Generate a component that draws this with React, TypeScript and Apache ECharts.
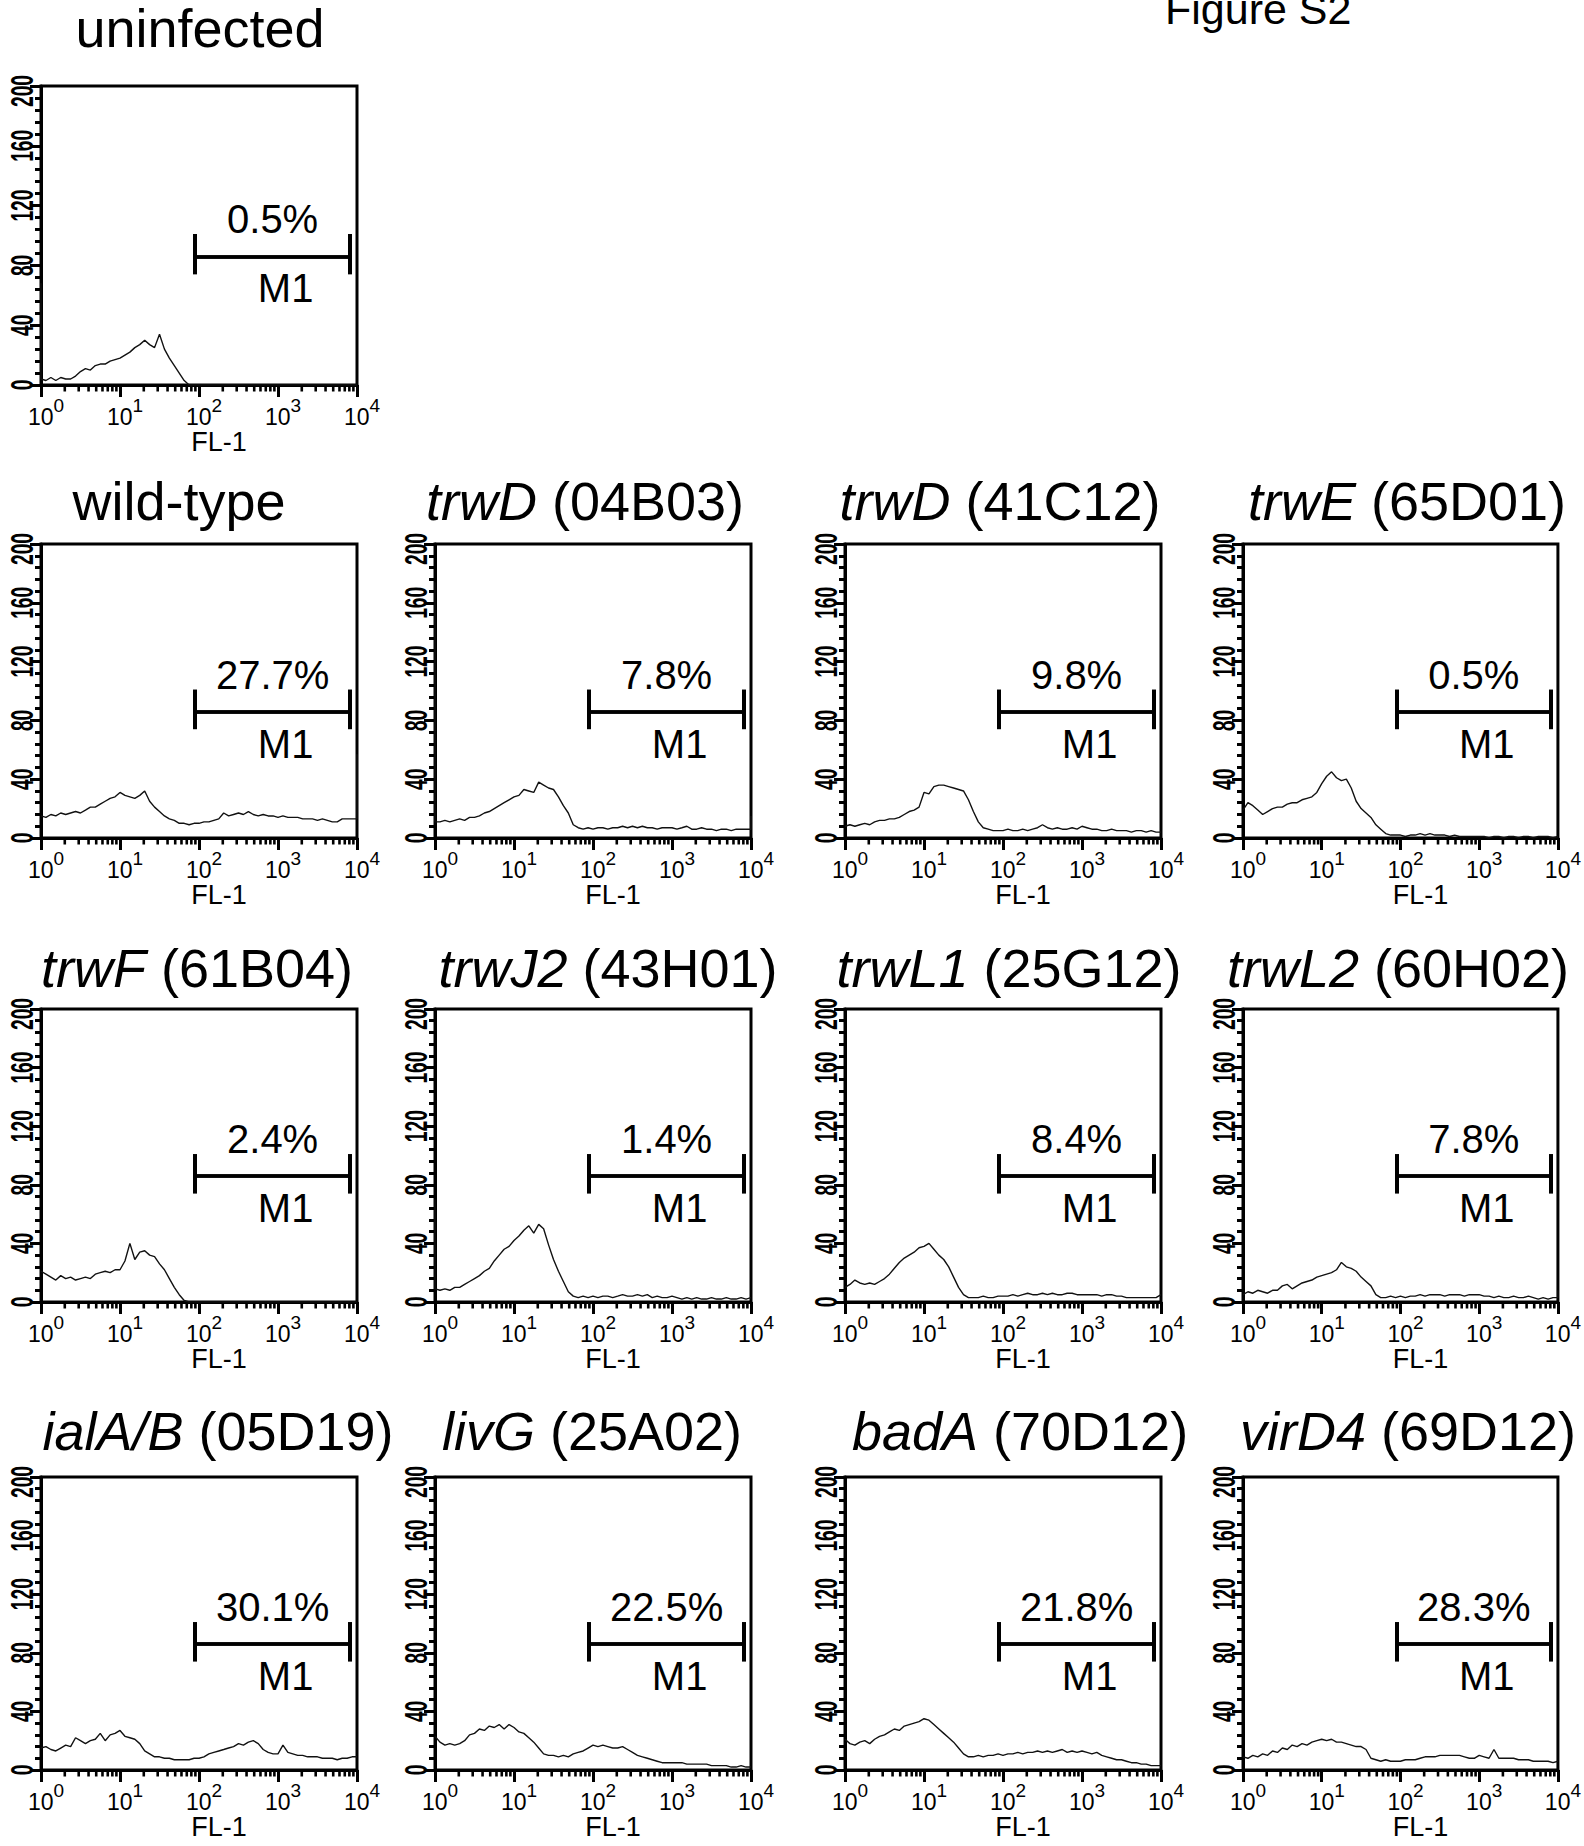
import React, { useEffect, useRef } from "react";
import * as echarts from "echarts";

// ---------- data ----------
// log-spaced FL-1 channel positions (16 per decade, 10^0 .. 10^4)
const CHANNELS = [
  1, 1.155, 1.334, 1.54, 1.778, 2.054, 2.371, 2.738, 3.162, 3.652, 4.217, 4.87, 5.623, 6.494, 7.499, 8.66,
  10, 11.55, 13.34, 15.4, 17.78, 20.54, 23.71, 27.38, 31.62, 36.52, 42.17, 48.7, 56.23, 64.94, 74.99, 86.6,
  100, 115.5, 133.4, 154, 177.8, 205.4, 237.1, 273.8, 316.2, 365.2, 421.7, 487, 562.3, 649.4, 749.9, 866,
  1000, 1155, 1334, 1540, 1778, 2054, 2371, 2738, 3162, 3652, 4217, 4870, 5623, 6494, 7499, 8660,
  10000,
];

const PANEL_GENES = ["", "", "trwD", "trwD", "trwE", "trwF", "trwJ2", "trwL1", "trwL2", "ialA/B", "livG", "badA", "virD4"];
const PANEL_CLONES = ["uninfected", "wild-type", "(04B03)", "(41C12)", "(65D01)", "(61B04)", "(43H01)", "(25G12)", "(60H02)", "(05D19)", "(25A02)", "(70D12)", "(69D12)"];
const PERCENTS = ["0.5%", "27.7%", "7.8%", "9.8%", "0.5%", "2.4%", "1.4%", "8.4%", "7.8%", "30.1%", "22.5%", "21.8%", "28.3%"];

const H_UNINF = [
  4, 3, 5, 3, 5, 4, 4, 6, 9, 11, 10, 13, 14, 14, 16, 17,
  18, 20, 22, 25, 27, 30, 27, 25, 34, 24, 18, 13, 8, 3, 0, 0,
  0, 0, 0, 0, 0, 0, 0, 0, 0, 0, 0, 0, 0, 0, 0, 0,
  0, 0, 0, 0, 0, 0, 0, 0, 0, 0, 0, 0, 0, 0, 0, 0,
  0,
];
const H_WT = [
  15, 14, 16, 15, 17, 16, 17, 18, 17, 19, 21, 21, 23, 25, 27, 28,
  31, 29, 28, 27, 29, 32, 25, 21, 18, 15, 13, 12, 10, 10, 9, 10,
  10, 11, 11, 12, 13, 17, 15, 16, 17, 16, 18, 16, 15, 16, 15, 15,
  14, 15, 14, 14, 14, 13, 13, 13, 12, 13, 12, 11, 11, 13, 13, 13,
  13,
];
const H_TRWD_04B03 = [
  11, 11, 12, 11, 12, 13, 12, 14, 14, 15, 17, 18, 20, 22, 24, 26,
  28, 29, 33, 32, 31, 38, 36, 34, 33, 28, 22, 17, 9, 7, 6, 7,
  6, 7, 7, 6, 7, 7, 8, 7, 8, 7, 8, 7, 7, 6, 7, 7,
  7, 6, 7, 8, 6, 6, 7, 6, 6, 5, 6, 6, 5, 6, 6, 6,
  6,
];
const H_TRWD_41C12 = [
  8, 9, 8, 9, 10, 9, 11, 12, 12, 13, 13, 14, 16, 18, 19, 21,
  31, 30, 35, 36, 36, 35, 34, 33, 32, 26, 18, 11, 7, 6, 5, 5,
  5, 6, 5, 5, 6, 5, 6, 7, 9, 7, 6, 7, 6, 6, 7, 6,
  8, 7, 6, 6, 5, 5, 6, 5, 5, 5, 4, 5, 5, 4, 5, 4,
  4,
];
const H_TRWE = [
  19, 24, 22, 19, 16, 18, 20, 21, 21, 23, 24, 24, 26, 27, 28, 31,
  37, 42, 45, 41, 39, 40, 34, 25, 20, 17, 14, 9, 6, 3, 2, 2,
  2, 1, 2, 2, 3, 2, 3, 2, 2, 2, 1, 2, 1, 1, 1, 1,
  1, 1, 0, 1, 1, 0, 1, 1, 0, 1, 1, 0, 1, 1, 1, 0,
  1,
];
const H_TRWF = [
  21, 19, 17, 15, 18, 16, 17, 15, 16, 17, 16, 19, 20, 21, 20, 22,
  22, 28, 40, 29, 34, 35, 32, 31, 26, 22, 16, 10, 5, 1, 0, 0,
  0, 0, 0, 0, 0, 0, 0, 0, 0, 0, 0, 0, 0, 0, 0, 0,
  0, 0, 0, 0, 0, 0, 0, 0, 0, 0, 0, 0, 0, 0, 0, 0,
  0,
];
const H_TRWJ2 = [
  9, 8, 9, 8, 10, 10, 12, 14, 16, 18, 21, 23, 28, 32, 36, 38,
  42, 45, 49, 52, 47, 53, 50, 39, 29, 21, 14, 7, 4, 3, 4, 3,
  4, 3, 4, 4, 3, 4, 5, 4, 4, 5, 4, 5, 3, 4, 3, 3,
  4, 3, 2, 3, 2, 3, 2, 2, 3, 2, 2, 3, 2, 2, 3, 2,
  3,
];
const H_TRWL1 = [
  10, 12, 15, 13, 12, 13, 12, 14, 16, 19, 23, 27, 30, 32, 34, 37,
  38, 40, 36, 32, 29, 24, 17, 10, 5, 3, 3, 3, 4, 3, 3, 4,
  4, 4, 5, 4, 5, 6, 5, 5, 6, 5, 6, 5, 5, 6, 6, 5,
  5, 5, 5, 5, 4, 5, 5, 4, 4, 3, 3, 3, 3, 3, 3, 3,
  5,
];
const H_TRWL2 = [
  5, 7, 6, 8, 7, 6, 8, 8, 11, 12, 9, 11, 13, 14, 15, 17,
  18, 19, 20, 22, 27, 24, 23, 21, 17, 14, 11, 5, 3, 3, 4, 3,
  4, 3, 4, 4, 5, 4, 5, 5, 5, 4, 5, 5, 5, 4, 5, 5,
  5, 4, 4, 3, 4, 3, 3, 4, 3, 3, 4, 3, 2, 3, 2, 3,
  3,
];
const H_IALAB = [
  15, 16, 14, 13, 15, 17, 16, 22, 20, 18, 20, 21, 25, 20, 24, 25,
  27, 23, 22, 21, 18, 13, 11, 9, 9, 8, 8, 7, 7, 7, 7, 8,
  8, 9, 11, 12, 13, 14, 15, 16, 18, 17, 19, 20, 18, 14, 12, 11,
  11, 17, 12, 11, 10, 10, 9, 9, 9, 8, 8, 8, 7, 8, 8, 9,
  9,
];
const H_LIVG = [
  23, 19, 17, 18, 17, 18, 20, 24, 25, 28, 27, 30, 29, 31, 28, 31,
  29, 26, 25, 22, 19, 15, 11, 10, 10, 9, 10, 9, 11, 12, 13, 15,
  17, 16, 17, 16, 15, 15, 16, 14, 12, 10, 9, 8, 7, 6, 5, 5,
  5, 5, 5, 4, 4, 4, 4, 4, 3, 3, 3, 3, 2, 2, 3, 2,
  2,
];
const H_BADA = [
  21, 18, 17, 19, 20, 18, 21, 23, 24, 26, 28, 27, 30, 31, 32, 33,
  35, 34, 31, 28, 25, 22, 19, 15, 11, 9, 9, 10, 9, 10, 10, 11,
  10, 11, 11, 12, 11, 12, 12, 13, 12, 13, 12, 13, 14, 12, 13, 12,
  13, 12, 11, 12, 10, 9, 8, 7, 7, 6, 5, 5, 4, 4, 3, 3,
  3,
];
const H_VIRD4 = [
  9, 8, 10, 9, 11, 10, 13, 12, 15, 14, 17, 16, 18, 17, 19, 20,
  21, 20, 21, 19, 19, 18, 17, 16, 16, 14, 8, 7, 6, 7, 6, 6,
  6, 7, 7, 7, 8, 9, 9, 9, 10, 10, 10, 10, 10, 9, 8, 8,
  10, 9, 8, 14, 8, 8, 8, 8, 7, 7, 7, 6, 6, 6, 6, 5,
  6,
];
const HISTS = [H_UNINF, H_WT, H_TRWD_04B03, H_TRWD_41C12, H_TRWE, H_TRWF, H_TRWJ2, H_TRWL1, H_TRWL2, H_IALAB, H_LIVG, H_BADA, H_VIRD4];
// counts piled up in the first / last channel (drawn as vertical strokes at the axis ends)
const FIRST_CHANNEL_SPIKE = [68, 0, 174, 0, 0, 0, 70, 0, 0, 0, 0, 0, 0];
const LAST_CHANNEL_SPIKE = [0, 57, 15, 0, 0, 0, 0, 0, 8, 0, 0, 0, 0];

const Y_TICKS = [0, 40, 80, 120, 160, 200];
const X_MINOR_TICKS = [
  2, 3, 4, 5, 6, 7, 8, 9,
  20, 30, 40, 50, 60, 70, 80, 90,
  200, 300, 400, 500, 600, 700, 800, 900,
  2000, 3000, 4000, 5000, 6000, 7000, 8000, 9000,
];
const GATE_X = [89, 8200]; // M1 marker range on FL-1
const GATE_Y = 86;
const GATE_CAP_Y = [74, 101];

// ---------- layout ----------
const FONT = '"Liberation Sans", Arial, Helvetica, sans-serif';
const COL_LEFT = [41, 435, 845, 1243];
const PLOT_W = 316;
const ROW_TOP = [86, 544, 1009, 1477];
const ROW_H = [299, 294, 293, 293];
const ROW_TITLE_BASELINE = [47, 520, 987, 1450];
const PANEL_ROW = [0, 1, 1, 1, 1, 2, 2, 2, 2, 3, 3, 3, 3];
const PANEL_COL = [0, 0, 1, 2, 3, 0, 1, 2, 3, 0, 1, 2, 3];
const TITLE_CX = [200, 179, 585, 1000, 1407, 197, 608, 1009, 1398, 218, 592, 1020, 1408];

export default function App() {
  const ref = useRef<HTMLDivElement>(null);

  useEffect(() => {
    const el = ref.current;
    if (!el) return;
    const chart = echarts.init(el, null, { renderer: "svg" });

    const grids: any[] = [];
    const xAxes: any[] = [];
    const yAxes: any[] = [];
    const series: any[] = [];

    HISTS.forEach((h, i) => {
      const r = PANEL_ROW[i];
      const c = PANEL_COL[i];
      grids.push({
        left: COL_LEFT[c],
        top: ROW_TOP[r],
        width: PLOT_W,
        height: ROW_H[r],
        show: true,
        borderColor: "#000",
        borderWidth: 3,
        backgroundColor: "rgba(0,0,0,0)",
      });
      xAxes.push({
        gridIndex: i,
        type: "log",
        logBase: 10,
        min: 1,
        max: 10000,
        splitNumber: 4,
        axisLine: { show: true, onZero: false, lineStyle: { color: "#000", width: 3 } },
        axisTick: { show: true, length: 12, lineStyle: { color: "#000", width: 3 } },
        splitLine: { show: false },
        axisLabel: {
          margin: 11,
          color: "#000",
          padding: [0, 0, 0, 10],
          formatter: (v: number) => `{b|10}{s|${Math.round(Math.log10(v))}}`,
          rich: {
            b: { fontSize: 23, lineHeight: 32, verticalAlign: "bottom", fontFamily: FONT, color: "#000" },
            s: { fontSize: 19, lineHeight: 19, verticalAlign: "top", fontFamily: FONT, color: "#000" },
          },
        },
        name: "FL-1",
        nameLocation: "middle",
        nameGap: 41,
        nameTextStyle: { fontSize: 27, fontFamily: FONT, color: "#000", padding: [0, 0, 0, 40] },
      });
      yAxes.push({
        gridIndex: i,
        type: "value",
        min: 0,
        max: 200,
        interval: 40,
        axisLine: { show: true, onZero: false, lineStyle: { color: "#000", width: 3 } },
        axisTick: { show: true, length: 11, lineStyle: { color: "#000", width: 3 } },
        minorTick: { show: true, splitNumber: 5, length: 6, lineStyle: { color: "#000", width: 3 } },
        splitLine: { show: false },
        minorSplitLine: { show: false },
        axisLabel: { show: false },
      });

      const data: number[][] = [];
      if (FIRST_CHANNEL_SPIKE[i] > 0) data.push([CHANNELS[0], FIRST_CHANNEL_SPIKE[i]]);
      h.forEach((v, k) => data.push([CHANNELS[k], v]));
      if (LAST_CHANNEL_SPIKE[i] > 0) data.push([CHANNELS[CHANNELS.length - 1], LAST_CHANNEL_SPIKE[i]]);

      const lbl = { fontSize: 40, fontFamily: FONT, color: "#000" };
      series.push({
        type: "line",
        xAxisIndex: i,
        yAxisIndex: i,
        data,
        symbol: "none",
        showSymbol: false,
        silent: true,
        lineStyle: { color: "#111", width: 1.4 },
        markLine: {
          silent: true,
          symbol: ["none", "none"],
          lineStyle: { color: "#000", width: 3.5, type: "solid" },
          label: { show: false },
          emphasis: { disabled: true },
          data: [
            [
              { coord: [GATE_X[0], GATE_Y], label: { show: true, position: "insideMiddleTop", distance: 17, formatter: PERCENTS[i], ...lbl } },
              { coord: [GATE_X[1], GATE_Y] },
            ],
            [
              { coord: [GATE_X[0], GATE_Y], label: { show: true, position: "insideMiddleBottom", distance: 12, formatter: "M1", padding: [0, 0, 0, 26], ...lbl } },
              { coord: [GATE_X[1], GATE_Y] },
            ],
            [
              { coord: [GATE_X[0], GATE_CAP_Y[0]], lineStyle: { width: 4 } },
              { coord: [GATE_X[0], GATE_CAP_Y[1]] },
            ],
            [
              { coord: [GATE_X[1], GATE_CAP_Y[0]], lineStyle: { width: 4 } },
              { coord: [GATE_X[1], GATE_CAP_Y[1]] },
            ],
          ],
        },
      });
      // logarithmic minor ticks under the FL-1 axis
      series.push({
        type: "custom",
        xAxisIndex: i,
        yAxisIndex: i,
        clip: false,
        silent: true,
        data: X_MINOR_TICKS.map((v) => [v, 0]),
        renderItem: (_p: any, api: any) => {
          const pt = api.coord([api.value(0), 0]);
          return {
            type: "line",
            shape: { x1: pt[0], y1: pt[1], x2: pt[0], y2: pt[1] + 6.5 },
            style: { stroke: "#000", lineWidth: 2.6 },
          };
        },
      });
    });

    chart.setOption({
      animation: false,
      backgroundColor: "#fff",
      grid: grids,
      xAxis: xAxes,
      yAxis: yAxes,
      series,
    });

    const graphics: any[] = [];
    graphics.push({
      type: "text",
      x: 1165,
      y: 9,
      silent: true,
      style: { text: "Figure S2", fontSize: 43, fontFamily: FONT, fill: "#000", align: "left", verticalAlign: "middle" },
    });
    HISTS.forEach((_h, i) => {
      const r = PANEL_ROW[i];
      const gene = PANEL_GENES[i];
      const text = gene ? `{i|${gene}} ${PANEL_CLONES[i]}` : PANEL_CLONES[i];
      graphics.push({
        type: "text",
        x: TITLE_CX[i],
        y: ROW_TITLE_BASELINE[r] - 18.7,
        silent: true,
        style: {
          text,
          fontSize: 54,
          lineHeight: 50,
          fontFamily: FONT,
          fill: "#000",
          align: "center",
          verticalAlign: "middle",
          rich: { i: { fontSize: 54, lineHeight: 50, fontFamily: FONT, fontStyle: "italic", fill: "#000" } },
        },
      });
      Y_TICKS.forEach((v, t) => {
        const p = chart.convertToPixel({ gridIndex: i } as any, [1, v]) as number[];
        if (!p) return;
        const shift = t === Y_TICKS.length - 1 ? 5 : 0;
        graphics.push({
          type: "text",
          x: p[0] - 19,
          y: p[1] + shift,
          rotation: Math.PI / 2,
          scaleX: 0.6,
          silent: true,
          style: {
            text: String(v),
            fontSize: 32,
            fontWeight: "bold",
            fontFamily: FONT,
            fill: "#000",
            align: "center",
            verticalAlign: "middle",
          },
        });
      });
    });
    chart.setOption({ graphic: graphics });

    return () => {
      chart.dispose();
    };
  }, []);

  return (
    <div
      ref={ref}
      style={{ position: "absolute", left: 0, top: 0, width: 1584, height: 1846, background: "#fff" }}
    />
  );
}
